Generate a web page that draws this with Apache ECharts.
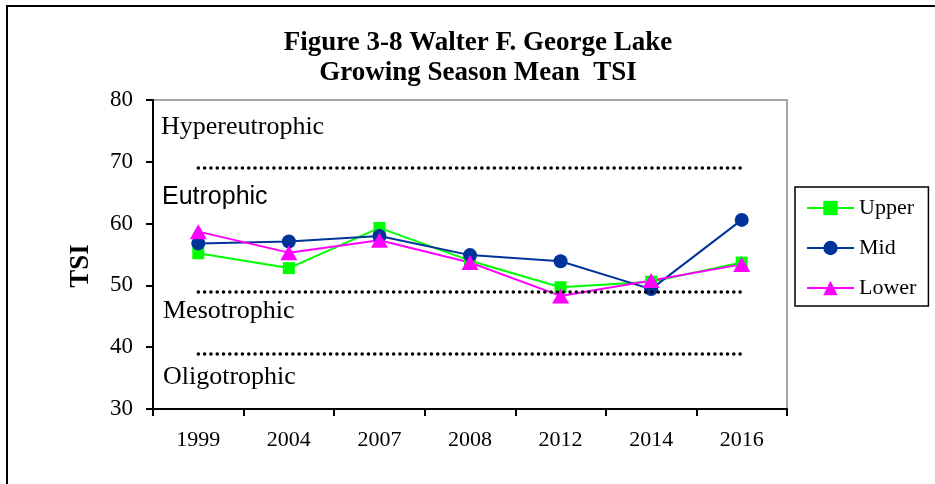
<!DOCTYPE html>
<html>
<head>
<meta charset="utf-8">
<script src="https://cdn.jsdelivr.net/npm/echarts@6/dist/echarts.min.js"></script>
<style>
html,body{margin:0;padding:0;background:#fff;}
#chart{width:935px;height:484px;}
</style>
</head>
<body>
<div id="chart"></div>
<script>
const categories = ['1999', '2004', '2007', '2008', '2012', '2014', '2016'];
const upper = [55.2, 52.8, 59.3, 54.0, 49.7, 50.6, 53.7];
const mid = [56.8, 57.1, 58.0, 54.9, 53.9, 49.4, 60.6];
const lower = [58.7, 55.3, 57.3, 53.7, 48.3, 50.8, 53.4];
const boundaries = [69, 49, 39];
const zoneNames = ['Hypereutrophic', 'Eutrophic', 'Mesotrophic', 'Oligotrophic'];
const titleLines = ['Figure 3-8 Walter F. George Lake', 'Growing Season Mean  TSI'];
const yTicks = [30, 40, 50, 60, 70, 80];

const SERIF = '"Liberation Serif", "Times New Roman", serif';
const SANS = '"Liberation Sans", Arial, sans-serif';

const chart = echarts.init(document.getElementById('chart'), null, {renderer: 'canvas'});

const dotted = {color: '#000', width: 3.5, type: [0.1, 6.2], cap: 'round'};

const option = {
  animation: false,
  backgroundColor: '#fff',
  grid: {left: 153, top: 100, width: 634, height: 309, show: true, borderColor: '#a6a6a6', borderWidth: 2, backgroundColor: 'transparent'},
  legend: {
    orient: 'vertical',
    left: 795, top: 187,
    padding: [10, 12, 7, 11],
    itemGap: 18,
    itemWidth: 47, itemHeight: 18,
    borderColor: '#000', borderWidth: 1.5,
    textStyle: {fontFamily: SERIF, fontSize: 22, color: '#000', lineHeight: 22},
    data: ['Upper', 'Mid', 'Lower']
  },
  xAxis: {
    type: 'category',
    data: categories,
    boundaryGap: true,
    axisLine: {lineStyle: {color: '#000', width: 2}},
    axisTick: {show: true, inside: false, length: 7, lineStyle: {color: '#000', width: 2}},
    axisLabel: {fontFamily: SERIF, fontSize: 22, color: '#000', margin: 20}
  },
  yAxis: {
    type: 'value',
    min: yTicks[0], max: yTicks[yTicks.length - 1], interval: 10,
    axisLine: {show: true, lineStyle: {color: '#000', width: 2}},
    axisTick: {show: true, inside: false, length: 7, lineStyle: {color: '#000', width: 2}},
    splitLine: {show: false},
    axisLabel: {fontFamily: SERIF, fontSize: 23, color: '#000', margin: 20}
  },
  series: [
    {
      name: 'Upper', type: 'line', data: upper,
      symbol: 'rect', symbolSize: 12,
      lineStyle: {color: '#00ff00', width: 2},
      itemStyle: {color: '#00ff00'},
      markLine: {
        silent: true, symbol: 'none', label: {show: false},
        lineStyle: dotted,
        data: boundaries.map(v => [{coord: [categories[0], v]}, {coord: [categories[categories.length - 1], v]}])
      }
    },
    {
      name: 'Mid', type: 'line', data: mid,
      symbol: 'circle', symbolSize: 14,
      lineStyle: {color: '#003399', width: 2},
      itemStyle: {color: '#003399'}
    },
    {
      name: 'Lower', type: 'line', data: lower,
      symbol: 'triangle', symbolSize: [17, 15],
      lineStyle: {color: '#ff00ff', width: 2},
      itemStyle: {color: '#ff00ff'}
    }
  ],
  graphic: [
    {type: 'rect', shape: {x: 7, y: 6, width: 1000, height: 600}, style: {fill: 'none', stroke: '#000', lineWidth: 2}, silent: true, z: -1},
    {type: 'text', x: 478, y: 43, style: {text: titleLines[0], font: 'bold 27px ' + SERIF, fill: '#000', textAlign: 'center', textVerticalAlign: 'middle'}},
    {type: 'text', x: 478, y: 73, style: {text: titleLines[1], font: 'bold 27px ' + SERIF, fill: '#000', textAlign: 'center', textVerticalAlign: 'middle'}},
    {type: 'text', x: 81, y: 266, rotation: Math.PI / 2, style: {text: 'TSI', font: 'bold 27px ' + SERIF, fill: '#000', textAlign: 'center', textVerticalAlign: 'middle'}},
    {type: 'text', x: 161, y: 127, style: {text: zoneNames[0], font: '26px ' + SERIF, fill: '#000', textVerticalAlign: 'middle'}},
    {type: 'text', x: 162, y: 197, style: {text: zoneNames[1], font: '25px ' + SANS, fill: '#000', textVerticalAlign: 'middle'}},
    {type: 'text', x: 163, y: 311, style: {text: zoneNames[2], font: '26px ' + SERIF, fill: '#000', textVerticalAlign: 'middle'}},
    {type: 'text', x: 163, y: 377, style: {text: zoneNames[3], font: '26px ' + SERIF, fill: '#000', textVerticalAlign: 'middle'}}
  ]
};
chart.setOption(option);
</script>
</body>
</html>
